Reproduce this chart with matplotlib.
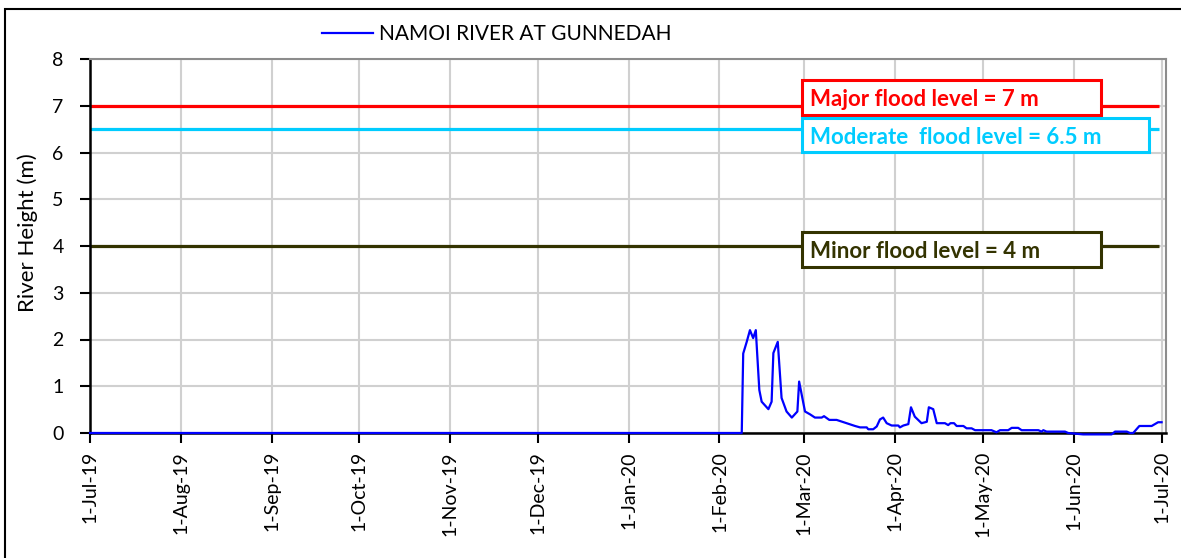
import datetime as dt
import matplotlib
matplotlib.use("Agg")
import matplotlib.pyplot as plt
import matplotlib.dates as mdates
from matplotlib.patches import Rectangle

# River height series (days since 1-Jul-2019, metres)
day_offsets = [
    0, 222.6, 223.1, 224.3, 225.4, 226.5, 227.4, 228.6, 229.4, 231.7,
    232.8, 233.4, 234.9, 236.2, 237.9, 239.7, 241.6, 242.2, 244.2, 245.9,
    247.6, 249.9, 250.7, 252.5, 255.0, 258.4, 261.3, 263.0, 265.3, 265.8,
    267.5, 268.7, 269.8, 270.9, 272.1, 273.8, 276.1, 276.6, 277.8, 279.5,
    280.4, 281.7, 284.0, 285.8, 286.5, 288.0, 289.2, 292.0, 293.1, 293.9,
    295.1, 296.0, 298.3, 299.4, 301.1, 302.3, 307.9, 309.6, 310.8, 313.6,
    314.8, 317.0, 318.2, 323.9, 325.0, 325.6, 326.7, 333.0, 334.1, 339.2,
    348.9, 350.1, 354.1, 355.2, 356.3, 358.4, 362.6, 364.8, 366.0,
]
heights = [
    0, 0, 1.70, 1.95, 2.20, 2.03, 2.20, 0.92, 0.67, 0.51,
    0.67, 1.71, 1.95, 0.75, 0.46, 0.33, 0.46, 1.10, 0.46, 0.40,
    0.33, 0.33, 0.36, 0.28, 0.28, 0.21, 0.15, 0.12, 0.12, 0.08,
    0.08, 0.14, 0.29, 0.33, 0.21, 0.16, 0.16, 0.12, 0.16, 0.19,
    0.55, 0.35, 0.21, 0.24, 0.55, 0.51, 0.21, 0.21, 0.17, 0.21,
    0.21, 0.15, 0.15, 0.10, 0.10, 0.06, 0.06, 0.015, 0.06, 0.06,
    0.11, 0.11, 0.06, 0.06, 0.03, 0.06, 0.03, 0.03, 0.0, -0.03,
    -0.03, 0.03, 0.03, 0.0, 0.0, 0.15, 0.15, 0.23, 0.23,
]

flood_names = ["Major flood level = 7 m", "Moderate  flood level = 6.5 m", "Minor flood level = 4 m"]
flood_levels = [7.0, 6.5, 4.0]
flood_colors = ["#FF0000", "#00CCFF", "#333300"]
# label boxes in pixels: x0, y0, x1, y1 (top-left origin)
flood_boxes = [(802, 80, 1101, 115), (802, 118, 1149, 152), (802, 232, 1101, 267)]

start = dt.date(2019, 7, 1)
tick_dates = [dt.date(2019 + (6 + m) // 12, (6 + m) % 12 + 1, 1) for m in range(13)]

W, H = 1181, 558
plt.rcParams["font.family"] = ["Lato", "DejaVu Sans"]

fig = plt.figure(figsize=(W / 100, H / 100), dpi=100)
ax = fig.add_axes([90 / W, 1 - 433 / H, (1166 - 90) / W, (433 - 59) / H])

t0 = mdates.date2num(start)
x = [t0 + d for d in day_offsets]
ax.plot(x, heights, color="#0000FF", lw=1.6, label="NAMOI RIVER AT GUNNEDAH",
        zorder=3, clip_on=False)

for lvl, c in zip(flood_levels, flood_colors):
    ax.hlines(lvl, t0, t0 + 365, color=c, lw=2.3, zorder=2)

ax.set_xlim(t0, t0 + 367.5)
ax.set_ylim(0, 8)
ax.set_yticks(range(0, 9))
ax.set_xticks([mdates.date2num(d) for d in tick_dates])
ax.xaxis.set_major_formatter(mdates.DateFormatter("%-d-%b-%y"))
for lab in ax.get_xticklabels():
    lab.set_rotation(90)

ax.grid(True, color="#D0D0D0", lw=1.5)
ax.set_axisbelow(True)
ax.tick_params(axis="both", direction="out", length=7, width=1.5, labelsize=14)
ax.tick_params(axis="y", pad=12)
ax.tick_params(axis="x", pad=6)
for s in ["left", "bottom"]:
    ax.spines[s].set_color("black")
    ax.spines[s].set_linewidth(1.8)
for s in ["top", "right"]:
    ax.spines[s].set_color("#8C8C8C")
    ax.spines[s].set_linewidth(1.5)

ax.set_ylabel("River Height (m)", fontsize=16)
ax.yaxis.set_label_coords(-0.048, 0.535)

ax.legend(loc="center left", bbox_to_anchor=(322 / W, 1 - 34 / H),
          bbox_transform=fig.transFigure, frameon=False, fontsize=15,
          handlelength=2.45, handletextpad=0.3, borderpad=0, borderaxespad=0)

# flood level label boxes
for name, c, (x0, y0, x1, y1) in zip(flood_names, flood_colors, flood_boxes):
    fig.add_artist(Rectangle((x0 / W, 1 - y1 / H), (x1 - x0) / W, (y1 - y0) / H,
                             transform=fig.transFigure, facecolor="white",
                             edgecolor=c, lw=2.2, zorder=5))
    fig.text(810 / W, 1 - ((y0 + y1) / 2 + 2) / H, name, color=c, fontsize=16,
             fontweight="bold", va="center", ha="left", zorder=6)

# outer chart border
fig.add_artist(Rectangle((5 / W, -0.1), 1.2, 1.1 - 9 / H, transform=fig.transFigure,
                         fill=False, edgecolor="black", lw=1.5))

fig.savefig("out.png", dpi=100)
